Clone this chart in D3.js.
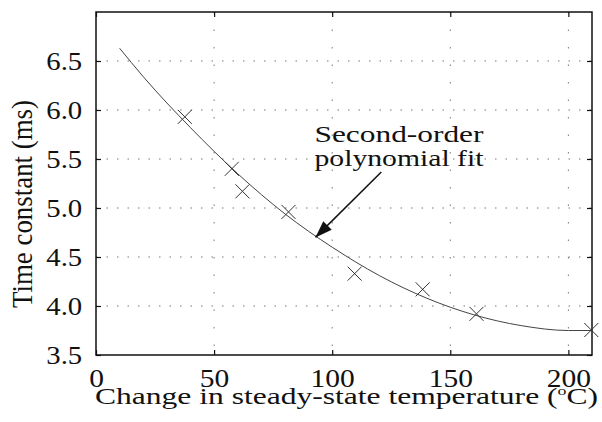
<!DOCTYPE html>
<html>
<head>
<meta charset="utf-8">
<script src="https://cdn.jsdelivr.net/npm/d3@7"></script>
<style>
  body { margin: 0; background: #fff; }
</style>
</head>
<body>
<div id="chart"></div>
<script>
// measured points (x markers)
var measX = [37.6, 57.5, 62.0, 81.5, 109.5, 138.3, 161.1, 209.7];
var measY = [5.93, 5.40, 5.17, 4.96, 4.33, 4.17, 3.92, 3.755];
// second-order fit
var fitX = [10, 20, 40, 60, 80, 100, 120, 140, 160, 180, 200, 210];
var fitY = [6.63, 6.34, 5.82, 5.35, 4.94, 4.60, 4.31, 4.08, 3.91, 3.80, 3.75, 3.75];
var xTicks = [0, 50, 100, 150, 200];
var yTicks = [3.5, 4.0, 4.5, 5.0, 5.5, 6.0, 6.5];
var noteLines = ["Second-order", "polynomial fit"];

var serif = "'Liberation Serif', 'Times New Roman', serif";

var margin = {top: 12, right: 10, bottom: 67, left: 96},
    width = 602 - margin.left - margin.right,
    height = 422 - margin.top - margin.bottom;

var svg = d3.select("#chart").append("svg")
    .attr("width", 602)
    .attr("height", 422)
  .append("g")
    .attr("transform", "translate(" + margin.left + "," + margin.top + ")");

var x = d3.scaleLinear().domain([0, 210]).range([0, width]);
var y = d3.scaleLinear().domain([3.5, 7.0]).range([height, 0]);

// dotted grid
svg.append("g").selectAll("line")
    .data(yTicks.slice(1))
  .enter().append("line")
    .attr("x1", 0).attr("x2", width)
    .attr("y1", function(d) { return y(d); })
    .attr("y2", function(d) { return y(d); })
    .attr("stroke", "#777")
    .attr("stroke-width", 1)
    .attr("stroke-dasharray", "1.5,9");

svg.append("g").selectAll("line")
    .data(xTicks.slice(1))
  .enter().append("line")
    .attr("y1", 0).attr("y2", height)
    .attr("x1", function(d) { return x(d); })
    .attr("x2", function(d) { return x(d); })
    .attr("stroke", "#777")
    .attr("stroke-width", 1)
    .attr("stroke-dasharray", "1.5,16");

// axes, ticks pointing inward
function styleTicks(g, sx) {
  g.select(".domain").remove();
  g.selectAll(".tick line").attr("stroke", "#111").attr("stroke-width", 1.2);
  g.selectAll(".tick text")
      .style("font-family", serif)
      .style("font-size", "25px")
      .attr("fill", "#111")
      .attr("transform", "scale(" + sx + ",1)");
}

svg.append("g")
    .attr("transform", "translate(0," + height + ")")
    .call(d3.axisBottom(x).tickValues(xTicks).tickSize(-5).tickPadding(14)
      .tickFormat(d3.format("d")))
    .call(styleTicks, 1.18);

svg.append("g")
    .call(d3.axisTop(x).tickValues(xTicks).tickSize(-5).tickFormat(""))
    .call(styleTicks, 1);

svg.append("g")
    .call(d3.axisLeft(y).tickValues(yTicks).tickSize(-5).tickPadding(12)
      .tickFormat(d3.format(".1f")))
    .call(styleTicks, 1.15);

svg.append("g")
    .attr("transform", "translate(" + width + ",0)")
    .call(d3.axisRight(y).tickValues(yTicks).tickSize(-5).tickFormat(""))
    .call(styleTicks, 1);

// frame
svg.append("rect")
    .attr("width", width)
    .attr("height", height)
    .attr("fill", "none")
    .attr("stroke", "#111")
    .attr("stroke-width", 1.5);

// fit curve
var fit = fitX.map(function(d, i) { return [d, fitY[i]]; });
var line = d3.line()
    .x(function(d) { return x(d[0]); })
    .y(function(d) { return y(d[1]); })
    .curve(d3.curveMonotoneX);

svg.append("path")
    .datum(fit)
    .attr("d", line)
    .attr("fill", "none")
    .attr("stroke", "#444")
    .attr("stroke-width", 1);

// x markers
var meas = measX.map(function(d, i) { return [d, measY[i]]; });
svg.append("g").selectAll("path")
    .data(meas)
  .enter().append("path")
    .attr("transform", function(d) { return "translate(" + x(d[0]) + "," + y(d[1]) + ")"; })
    .attr("d", d3.symbol().type(d3.symbolX).size(130))
    .attr("fill", "none")
    .attr("stroke", "#333")
    .attr("stroke-width", 1);

// annotation
svg.append("defs").append("marker")
    .attr("id", "head")
    .attr("markerUnits", "userSpaceOnUse")
    .attr("viewBox", "0 -6 17 12")
    .attr("refX", 17)
    .attr("refY", 0)
    .attr("markerWidth", 17)
    .attr("markerHeight", 12)
    .attr("orient", "auto")
  .append("path")
    .attr("d", "M0,-6L17,0L0,6Z")
    .attr("fill", "#111");

svg.append("line")
    .attr("x1", x(120.8)).attr("y1", y(5.367))
    .attr("x2", x(92.9)).attr("y2", y(4.70))
    .attr("stroke", "#111")
    .attr("stroke-width", 1.5)
    .attr("marker-end", "url(#head)");

svg.append("g").selectAll("text")
    .data(noteLines)
  .enter().append("text")
    .attr("x", x(92.5))
    .attr("y", function(d, i) { return y(5.67) + i * 23.5; })
    .style("font-family", serif)
    .style("font-size", "24px")
    .attr("fill", "#111")
    .attr("textLength", 169)
    .attr("lengthAdjust", "spacingAndGlyphs")
    .text(function(d) { return d; });

// axis titles
var xt = svg.append("text")
    .attr("x", 346.5 - margin.left)
    .attr("y", 404 - margin.top)
    .attr("text-anchor", "middle")
    .style("font-family", serif)
    .style("font-size", "23px")
    .attr("fill", "#111")
    .attr("textLength", 503)
    .attr("lengthAdjust", "spacingAndGlyphs");
xt.append("tspan").text("Change in steady-state temperature (");
xt.append("tspan").style("font-size", "13px").attr("dy", -9).text("o");
xt.append("tspan").attr("dy", 9).text("C)");

svg.append("text")
    .attr("transform", "translate(" + (32 - margin.left) + "," + (204 - margin.top) + ") scale(1.2,1) rotate(-90)")
    .attr("text-anchor", "middle")
    .style("font-family", serif)
    .style("font-size", "25px")
    .attr("fill", "#111")
    .attr("textLength", 208)
    .attr("lengthAdjust", "spacingAndGlyphs")
    .text("Time constant (ms)");
</script>
</body>
</html>
